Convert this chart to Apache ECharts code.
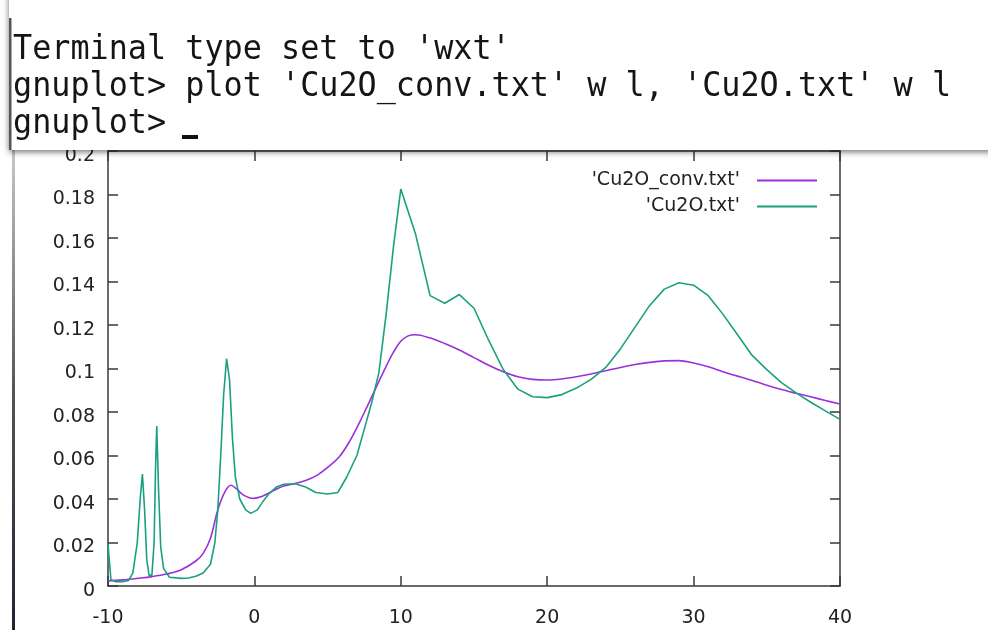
<!DOCTYPE html>
<html>
<head>
<meta charset="utf-8">
<script src="https://cdn.jsdelivr.net/npm/echarts@6/dist/echarts.min.js"></script>
<style>
html,body{margin:0;padding:0;background:#fff;}
#chart{width:988px;height:630px;}
</style>
</head>
<body>
<div id="chart"></div>
<script>
// 'Cu2O_conv.txt' (broadened spectrum)
const convX = [-10,-9,-8,-7,-6,-5,-4,-3.5,-3,-2.5,-2,-1.6,-1.2,-0.8,-0.3,0,0.5,1,1.5,2,2.7,3.5,4.3,5,5.8,6.5,7.2,7.7,8.5,9,9.5,10,10.5,11,12,13,14,15,16,17,18,19,20,21,22,23,24,25,26,27,28,29,30,31,32,33,34,35,36,37,38,39,40];
const convY = [0.0023,0.0028,0.0035,0.0043,0.0055,0.0075,0.0115,0.015,0.022,0.035,0.0435,0.0463,0.0445,0.042,0.0405,0.0403,0.0412,0.0428,0.0445,0.046,0.047,0.0485,0.051,0.0545,0.0594,0.0665,0.0755,0.0825,0.094,0.101,0.1075,0.1125,0.115,0.1155,0.114,0.1115,0.1085,0.105,0.1015,0.0985,0.0962,0.095,0.0947,0.0952,0.0962,0.0975,0.099,0.1005,0.1018,0.1028,0.1035,0.1036,0.1025,0.1008,0.0985,0.0965,0.0945,0.0923,0.0903,0.0886,0.087,0.0853,0.0837];
// 'Cu2O.txt' (raw spectrum)
const rawX = [-10,-9.8,-9.5,-9,-8.6,-8.3,-8,-7.8,-7.65,-7.5,-7.35,-7.2,-7,-6.85,-6.75,-6.67,-6.55,-6.4,-6.2,-5.8,-5,-4.5,-4,-3.5,-3,-2.7,-2.5,-2.3,-2.1,-1.9,-1.7,-1.5,-1.3,-1,-0.6,-0.25,0.2,0.6,1,1.5,2,2.8,3.5,4.2,5,5.7,6.3,7,7.5,8,8.5,9,9.5,10,11,12,13,14,15,16,17,18,19,20,21,22,23,24,25,26,27,28,29,30,31,32,33,34,35,36,37,38,39,40];
const rawY = [0.019,0.003,0.002,0.002,0.0025,0.006,0.02,0.04,0.0515,0.035,0.012,0.005,0.005,0.02,0.055,0.0736,0.045,0.018,0.008,0.004,0.0035,0.0037,0.0045,0.006,0.01,0.02,0.035,0.06,0.088,0.1045,0.095,0.068,0.05,0.04,0.035,0.0334,0.035,0.039,0.0425,0.0455,0.0468,0.047,0.0455,0.043,0.0423,0.043,0.05,0.06,0.072,0.084,0.098,0.125,0.156,0.1825,0.162,0.1335,0.13,0.134,0.1277,0.113,0.0995,0.0905,0.087,0.0866,0.088,0.091,0.095,0.1005,0.109,0.119,0.129,0.1365,0.1394,0.1383,0.1335,0.125,0.1155,0.106,0.0995,0.0935,0.0888,0.0845,0.0805,0.0766];
const xTicks = [-10, 0, 10, 20, 30, 40];
const yTicks = [0, 0.02, 0.04, 0.06, 0.08, 0.1, 0.12, 0.14, 0.16, 0.18, 0.2];
const terminalLines = ["Terminal type set to 'wxt'", "gnuplot> plot 'Cu2O_conv.txt' w l, 'Cu2O.txt' w l", "gnuplot> "];

const pair = (xs, ys) => xs.map((x, i) => [x, ys[i]]);
const axisColor = '#3a3a3a';
const font = 'DejaVu Sans';
const mono = 'DejaVu Sans Mono';

const chart = echarts.init(document.getElementById('chart'), null, {renderer: 'canvas'});
const baseX = {
  type: 'value', min: xTicks[0], max: xTicks[xTicks.length - 1], interval: 10,
  axisLine: {show: true, onZero: false, lineStyle: {color: axisColor, width: 1.5}},
  axisTick: {show: true, inside: true, length: 10, lineStyle: {color: axisColor, width: 1.5}},
  splitLine: {show: false}
};
const baseY = {
  type: 'value', min: yTicks[0], max: yTicks[yTicks.length - 1], interval: 0.02,
  axisLine: {show: true, onZero: false, lineStyle: {color: axisColor, width: 1.5}},
  axisTick: {show: true, inside: true, length: 10, lineStyle: {color: axisColor, width: 1.5}},
  splitLine: {show: false}
};
const termText = (i, y) => ({type: 'text', z: 102, x: 13, y: y, scaleY: 1.08,
  style: {text: terminalLines[i], fontFamily: mono, fontSize: 31.8, fill: '#151515', verticalAlign: 'middle'}});
chart.setOption({
  backgroundColor: '#ffffff',
  animation: false,
  grid: {left: 108, right: 148, top: 151, bottom: 44, containLabel: false},
  xAxis: [
    Object.assign({}, baseX, {position: 'bottom',
      axisLabel: {show: true, color: '#222', fontFamily: font, fontSize: 19, margin: 23}}),
    Object.assign({}, baseX, {position: 'top', axisLabel: {show: false}})
  ],
  yAxis: [
    Object.assign({}, baseY, {position: 'left',
      axisLabel: {show: true, margin: 13, formatter: '{a|{value}}',
        rich: {a: {color: '#222', fontFamily: font, fontSize: 19, padding: [10, 0, 0, 0]}}}}),
    Object.assign({}, baseY, {position: 'right', axisLabel: {show: false}})
  ],
  legend: {
    orient: 'vertical', right: 166, top: 166, align: 'right',
    icon: 'rect', itemWidth: 60, itemHeight: 2, itemGap: 7,
    textStyle: {fontFamily: font, fontSize: 19, color: '#222', padding: [0, 12, 0, 0]},
    data: ["'Cu2O_conv.txt'", "'Cu2O.txt'"]
  },
  series: [
    {name: "'Cu2O_conv.txt'", type: 'line', showSymbol: false, symbol: 'none', smooth: 0.35,
     data: pair(convX, convY), color: '#9b30d9', lineStyle: {color: '#9b30d9', width: 1.6}},
    {name: "'Cu2O.txt'", type: 'line', showSymbol: false, symbol: 'none',
     data: pair(rawX, rawY), color: '#1aa080', lineStyle: {color: '#1aa080', width: 1.6}}
  ],
  graphic: [
    {type: 'rect', z: 100, shape: {x: 12, y: 150, width: 3, height: 480},
     style: {fill: new echarts.graphic.LinearGradient(0, 0, 0, 1, [{offset: 0, color: '#c8c8c8'}, {offset: 0.5, color: '#555'}, {offset: 1, color: '#223'}])}},
    {type: 'rect', z: 100, shape: {x: 9, y: -20, width: 1000, height: 170},
     style: {fill: '#ffffff', shadowBlur: 6, shadowOffsetY: 2, shadowColor: 'rgba(0,0,0,0.55)'}},
    {type: 'rect', z: 101, shape: {x: 9, y: 18, width: 2.5, height: 132}, style: {fill: '#555'}},
    termText(0, 50),
    termText(1, 87),
    termText(2, 124),
    {type: 'rect', z: 102, shape: {x: 182, y: 135, width: 16, height: 4}, style: {fill: '#111'}}
  ]
});
</script>
</body>
</html>
